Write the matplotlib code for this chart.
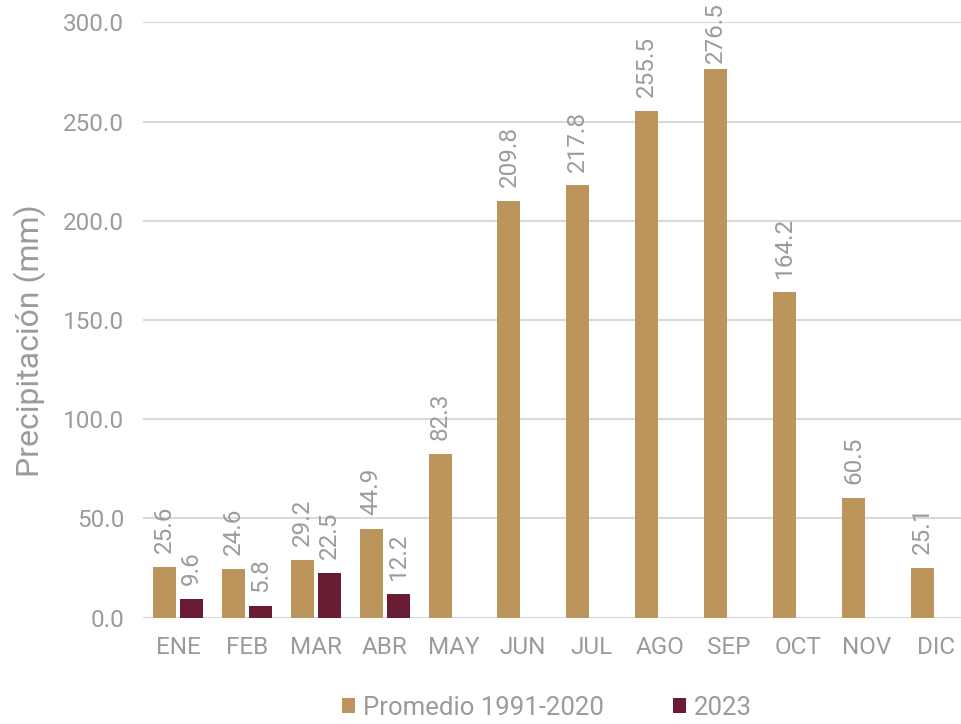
import matplotlib
matplotlib.use("Agg")
import matplotlib.pyplot as plt
import numpy as np

plt.rcParams['font.family'] = ['Roboto', 'DejaVu Sans']

meses = ["ENE", "FEB", "MAR", "ABR", "MAY", "JUN", "JUL", "AGO", "SEP", "OCT", "NOV", "DIC"]
promedio = [25.6, 24.6, 29.2, 44.9, 82.3, 209.8, 217.8, 255.5, 276.5, 164.2, 60.5, 25.1]
anio_2023 = [9.6, 5.8, 22.5, 12.2]
yticks = [0, 50, 100, 150, 200, 250, 300]

oro = "#BC955C"
guinda = "#691C32"
gris = "#9B9B9B"

fig = plt.figure(figsize=(9.61, 7.24), dpi=100)
ax = fig.add_axes([0.1493, 0.1468, 0.8604, 0.8224])

x = np.arange(len(meses))
w = 0.334
off = 0.196
b1 = ax.bar(x - off, promedio, w, color=oro, label="Promedio 1991-2020", zorder=3)
x2 = np.arange(len(anio_2023))
b2 = ax.bar(x2 + off, anio_2023, w, color=guinda, label="2023", zorder=3)

# etiquetas: si no caben arriba, se bajan para que no se corten
for bars, vals in [(b1, promedio), (b2, anio_2023)]:
    for b, v in zip(bars, vals):
        ypos = min(v + 7, 279.5)
        ax.text(b.get_x() + b.get_width() / 2, ypos, "%.1f" % v, rotation=90,
                ha="center", va="bottom", color=gris, fontsize=17.5, clip_on=False)

ax.set_xlim(-0.5, 11.5)
ax.set_ylim(0, 300)
ax.set_yticks(yticks)
ax.set_yticklabels(["%.1f" % t for t in yticks])
ax.set_xticks(x)
ax.set_xticklabels(meses)
ax.tick_params(axis="both", length=0, colors=gris, labelsize=17.5)
ax.tick_params(axis="x", pad=13)
ax.tick_params(axis="y", pad=14)
ax.grid(axis="y", color="#D9D9D9", linewidth=1.5, zorder=0)
for s in ax.spines.values():
    s.set_visible(False)

ax.set_ylabel("Precipitación (mm)", color=gris, fontsize=23)
ax.yaxis.set_label_coords(-0.118, 0.465)

fig.legend(loc="lower center", bbox_to_anchor=(0.569, -0.026), ncol=2, frameon=False,
           fontsize=18.5, labelcolor=gris, handlelength=0.5, handleheight=0.5,
           handletextpad=0.3, columnspacing=2.7)

fig.savefig("out.png", dpi=100)
